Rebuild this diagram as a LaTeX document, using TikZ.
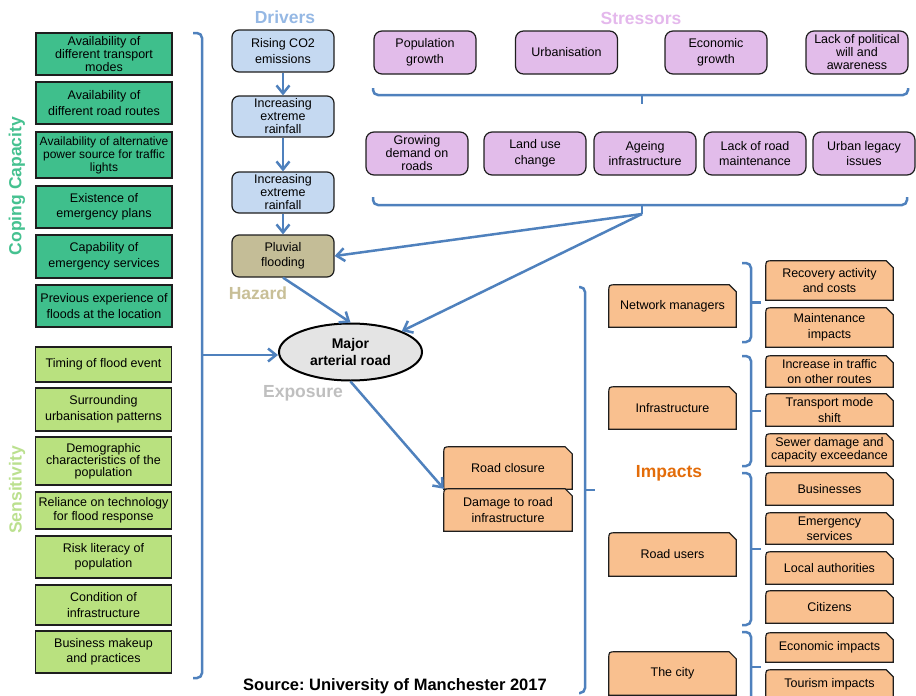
\documentclass[tikz,border=0pt]{standalone}
\usepackage{fontspec}
\setmainfont{Liberation Sans}
\usetikzlibrary{arrows.meta,calc,shapes.geometric}
\frenchspacing

\definecolor{boxline}{HTML}{1E1E1E}
\definecolor{linkblue}{HTML}{4F81BD}
\definecolor{copefill}{HTML}{3FBF8C}
\definecolor{copetext}{HTML}{45C190}
\definecolor{sensfill}{HTML}{B9E17F}
\definecolor{senstext}{HTML}{BBE08F}
\definecolor{drvfill}{HTML}{C5D9F1}
\definecolor{drvtext}{HTML}{95B8E4}
\definecolor{hazfill}{HTML}{C4BD97}
\definecolor{haztext}{HTML}{C8BF97}
\definecolor{strfill}{HTML}{E2BCEA}
\definecolor{strtext}{HTML}{E4B8EC}
\definecolor{impfill}{HTML}{F9C08F}
\definecolor{imptext}{HTML}{E36C09}
\definecolor{exptext}{HTML}{BFBFBF}
\definecolor{ellfill}{HTML}{E4E4E4}

\pgfdeclarelayer{back}
\pgfsetlayers{back,main}

% outline of a box with a rounded top-left and a snipped top-right corner
\newcommand\snipoutline[1]{%
  \filldraw[impshape] (#1.south west) -- ($(#1.north west)+(0,7)$)
    .. controls (#1.north west) .. ($(#1.north west)+(7,0)$)
    -- ($(#1.north east)+(-7,0)$) -- ($(#1.north east)+(0,7)$)
    -- (#1.south east) -- cycle;}

\begin{document}
\begin{tikzpicture}[x=1pt,y=-1pt,
  box/.style={draw=boxline, line width=1.2pt, minimum width=136pt, inner sep=1pt,
    align=center, font=\fontsize{12.5}{15.5}\selectfont, text=black},
  three/.style={font=\fontsize{12.5}{13}\selectfont},
  copebox/.style={box, fill=copefill},
  sensbox/.style={box, fill=sensfill},
  drvbox/.style={box, fill=drvfill, rounded corners=7pt, minimum width=102pt},
  hazbox/.style={drvbox, fill=hazfill},
  strbox/.style={box, fill=strfill, rounded corners=8pt, minimum width=102pt, minimum height=43pt},
  impbox/.style={inner sep=1pt, align=center, font=\fontsize{12.5}{15.5}\selectfont, minimum width=127pt},
  impshape/.style={fill=impfill, draw=boxline, line width=1.2pt},
  heading/.style={font=\fontsize{17.5}{20}\selectfont\bfseries, inner sep=0pt},
  link/.style={draw=linkblue, line width=2.5pt, -{Straight Barb[length=8pt,width=13pt]}},
  bracket/.style={draw=linkblue, line width=2.5pt, rounded corners=5pt},
]
\useasboundingbox (0,0) rectangle (916,696);

% ---------- headings ----------
\node[heading, text=drvtext] (hDrivers) at (285,17) {Drivers};
\node[heading, text=strtext] (hStress) at (641,18) {Stressors};
\node[heading, text=haztext] (hHazard) at (258,293) {Hazard};
\node[heading, text=exptext] (hExpo) at (303,393) {Exposure};
\node[heading, text=imptext] (hImp) at (669,473) {Impacts};
\node[heading, text=copetext, rotate=90] (hCope) at (17,186) {Coping Capacity};
\node[heading, text=senstext, rotate=90] (hSens) at (17,490) {Sensitivity};
\node[font=\fontsize{16.5}{19}\selectfont\bfseries, inner sep=0pt] (src) at (395,686)
  {Source: University of Manchester 2017};

% ---------- coping capacity ----------
\node[copebox, three, minimum height=42pt] (c1) at (104,54) {Availability of\\different transport\\modes};
\node[copebox, minimum height=42pt] (c2) at (104,103) {Availability of\\different road routes};
\node[copebox, minimum height=46pt, font=\fontsize{12}{13}\selectfont] (c3) at (104,155)
  {Availability of alternative\\power source for traffic\\lights};
\node[copebox, minimum height=42pt] (c4) at (104,207) {Existence of\\emergency plans};
\node[copebox, minimum height=43pt] (c5) at (104,256.5) {Capability of\\emergency services};
\node[copebox, minimum height=42pt] (c6) at (104,306) {Previous experience of\\floods at the location};

% ---------- sensitivity ----------
\node[sensbox, minimum height=35pt] (s1) at (103.5,364.5) {Timing of flood event};
\node[sensbox, minimum height=43pt] (s2) at (103.5,409.5) {Surrounding\\urbanisation patterns};
\node[sensbox, minimum height=48pt, font=\fontsize{12.5}{12}\selectfont] (s3) at (103.5,461)
  {Demographic\\characteristics of the\\population};
\node[sensbox, minimum height=37pt, font=\fontsize{12.5}{14}\selectfont] (s4) at (103.5,510.5)
  {Reliance on technology\\for flood response};
\node[sensbox, minimum height=42pt] (s5) at (103.5,557) {Risk literacy of\\population};
\node[sensbox, minimum height=40pt] (s6) at (103.5,605) {Condition of\\infrastructure};
\node[sensbox, minimum height=42pt] (s7) at (103.5,652) {Business makeup\\and practices};

% ---------- drivers and hazard ----------
\node[drvbox, minimum height=42pt] (d1) at (283,51) {Rising CO2\\emissions};
\node[drvbox, three, minimum height=41pt] (d2) at (283,116.5) {Increasing\\extreme\\rainfall};
\node[drvbox, three, minimum height=41pt] (d3) at (283,192.5) {Increasing\\extreme\\rainfall};
\node[hazbox, minimum height=42pt] (H) at (283,256) {Pluvial\\flooding};

% ---------- stressors ----------
\node[strbox] (p1) at (425,52.5) {Population\\growth};
\node[strbox] (p2) at (566.5,52.5) {Urbanisation};
\node[strbox] (p3) at (716,52.5) {Economic\\growth};
\node[strbox, three] (p4) at (857,52.5) {Lack of political\\will and\\awareness};
\node[strbox, three] (q1) at (417,153.5) {Growing\\demand on\\roads};
\node[strbox] (q2) at (535,153.5) {Land use\\change};
\node[strbox] (q3) at (645,153.5) {Ageing\\infrastructure};
\node[strbox] (q4) at (755,153.5) {Lack of road\\maintenance};
\node[strbox] (q5) at (864,153.5) {Urban legacy\\issues};

% ---------- exposed element ----------
\node[ellipse, draw=black, line width=2pt, fill=ellfill, minimum width=143pt, minimum height=57pt,
  inner sep=0pt, align=center, font=\fontsize{14}{16.5}\selectfont\bfseries] (E) at (350.5,352)
  {Major\\arterial road};

% ---------- impacts ----------
\node[impbox, minimum width=128pt, minimum height=42pt] (rc) at (508,468) {Road closure};
\node[impbox, minimum width=128pt, minimum height=42pt] (dm) at (508,510) {Damage to road\\infrastructure};
\node[impbox, minimum height=42pt] (nm) at (672.5,306) {Network managers};
\node[impbox, minimum height=42pt] (inf) at (672.5,408) {Infrastructure};
\node[impbox, minimum height=43pt] (ru) at (672.5,554.5) {Road users};
\node[impbox, minimum height=43pt] (tc) at (672.5,673.5) {The city};
\node[impbox, minimum height=39pt] (r1) at (829.5,280.5) {Recovery activity\\and costs};
\node[impbox, minimum height=39pt] (r2) at (829.5,327.5) {Maintenance\\impacts};
\node[impbox, minimum height=31pt] (r3) at (829.5,371.5) {Increase in traffic\\on other routes};
\node[impbox, minimum height=32pt] (r4) at (829.5,410) {Transport mode\\shift};
\node[impbox, minimum height=32pt, three] (r5) at (829.5,450) {Sewer damage and\\capacity exceedance};
\node[impbox, minimum height=32pt] (r6) at (829.5,489) {Businesses};
\node[impbox, minimum height=31pt, font=\fontsize{12.5}{15}\selectfont] (r7) at (829.5,528.5) {Emergency\\services};
\node[impbox, minimum height=32pt] (r8) at (829.5,568) {Local authorities};
\node[impbox, minimum height=32pt] (r9) at (829.5,607) {Citizens};
\node[impbox, minimum height=29pt] (r10) at (829.5,647.5) {Economic impacts};
\node[impbox, minimum height=28pt] (r11) at (829.5,684) {Tourism impacts};

\begin{pgfonlayer}{back}
  \foreach \n in {rc,dm,nm,inf,ru,tc,r1,r2,r3,r4,r5,r6,r7,r8,r9,r10,r11} {\snipoutline{\n}}
\end{pgfonlayer}

% ---------- brackets ----------
\coordinate (T1) at (202,355);
\coordinate (T2) at (642,214);
\draw[bracket] (193,33) -- (202,33) -- (202,678) -- (193,678);
\draw[bracket] (373,88) -- (373,95) -- (908,95) -- (908,88);
\draw[bracket] (642,95) -- (642,104);
\draw[bracket] (373,197) -- (373,205) -- (907,205) -- (907,197);
\draw[bracket] (642,205) -- (T2);
\draw[bracket] (579,287) -- (585,287) -- (585,693) -- (579,693);
\draw[bracket] (585,490) -- (595,490);
\draw[bracket] (742,263) -- (751,263) -- (751,342) -- (742,342);
\draw[bracket] (751,302.5) -- (761,302.5);
\draw[bracket] (742,356) -- (751,356) -- (751,466) -- (742,466);
\draw[bracket] (751,411) -- (761,411);
\draw[bracket] (742,473) -- (751,473) -- (751,625) -- (742,625);
\draw[bracket] (751,549) -- (761,549);
\draw[bracket] (742,632) -- (751,632) -- (751,702) -- (742,702);
\draw[bracket] (751,667) -- (761,667);

% ---------- connectors ----------
\draw[link] (d1) -- (d2);
\draw[link] (d2) -- (d3);
\draw[link] (d3) -- (H);
\draw[link] (H.south) -- (E.north);
\draw[link] (T2) -- (H.east);
\draw[link] (T2) -- (E.north east);
\draw[link] (T1) -- (T1 -| E.west);
\draw[link] (E.south) -- (dm.north west);
\end{tikzpicture}
\end{document}
